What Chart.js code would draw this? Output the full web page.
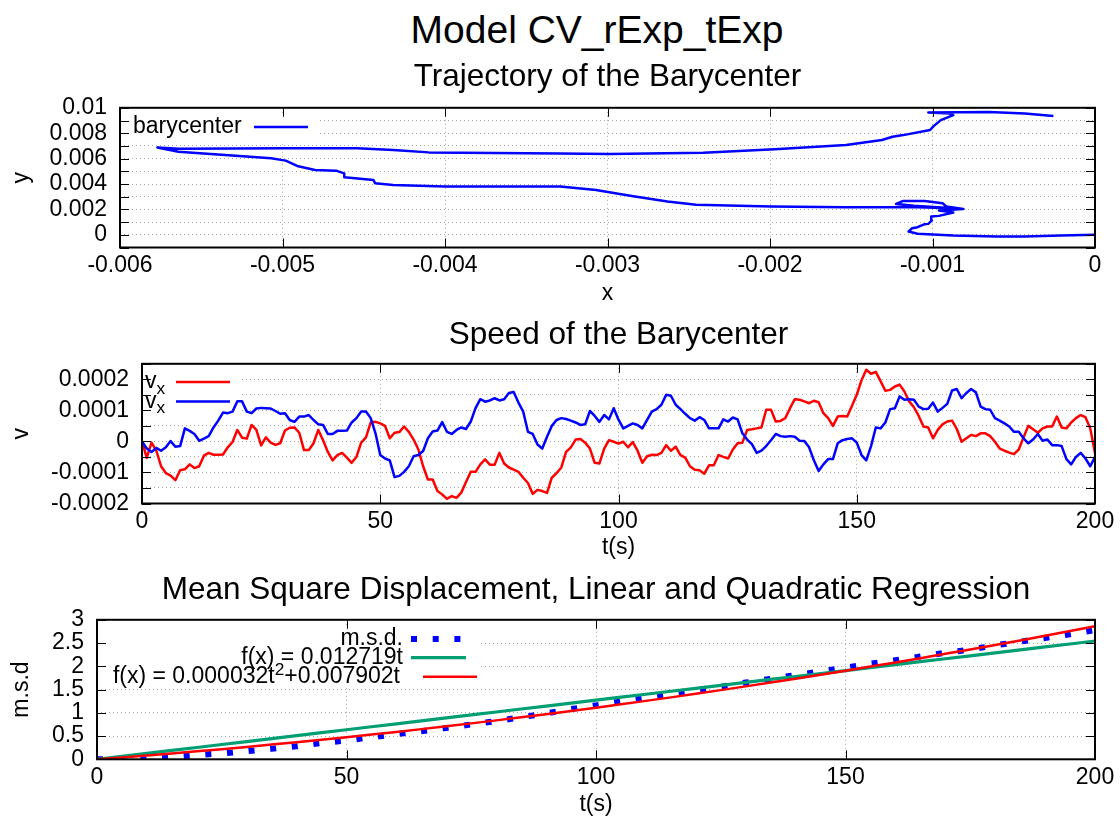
<!DOCTYPE html>
<html>
<head>
<meta charset="utf-8">
<title>Model CV_rExp_tExp</title>
<script src="https://cdn.jsdelivr.net/npm/chart.js@4.4.1/dist/chart.umd.min.js"></script>
<style>
  html, body { margin: 0; padding: 0; background: #fff; }
  #page { position: relative; width: 1120px; height: 817px; overflow: hidden;
          font-family: "Liberation Sans", Arial, sans-serif; }
  #mainTitle { position: absolute; left: 0; top: 8px; width: 1194px; text-align: center;
               font-size: 39px; line-height: 44px; color: #000; }
  canvas { position: absolute; left: 0; }
</style>
</head>
<body>
<div id="page">
  <div id="mainTitle">Model CV_rExp_tExp</div>
  <canvas id="trajChart" width="1120" height="310" style="top:0px"></canvas>
  <canvas id="speedChart" width="1120" height="256" style="top:310px"></canvas>
  <canvas id="msdChart" width="1120" height="251" style="top:566px"></canvas>
</div>
<script>
// barycenter path, in order from the origin
var trajX = [0, -0.000212, -0.000432, -0.000608, -0.000872, -0.001092, -0.001147, -0.001125, -0.001092, -0.001048,
  -0.001026, -0.001004, -0.001008, -0.00096, -0.000872, -0.00096, -0.00081, -0.000916, -0.000938, -0.001048,
  -0.00118, -0.001224, -0.001114, -0.000872, -0.001092, -0.001532, -0.001993, -0.002455, -0.002631, -0.002851,
  -0.003071, -0.003291, -0.004001, -0.00432, -0.00443, -0.00444, -0.00462, -0.00462, -0.00467, -0.0048,
  -0.00491, -0.00498, -0.00507, -0.0052, -0.00542, -0.00564, -0.00577, -0.00564, -0.00498, -0.00454,
  -0.00432, -0.0041, -0.0033, -0.002983, -0.002411, -0.001971, -0.001532, -0.001311, -0.001246, -0.00118,
  -0.001015, -0.000993, -0.000949, -0.000872, -0.000894, -0.001026, -0.000652, -0.000432, -0.000256];
var trajY = [0, -0.00005, -0.00013, -0.00013, -0.00005, 0.00008, 0.00026, 0.00052, 0.0006, 0.00084,
  0.00086, 0.00113, 0.00144, 0.00149, 0.00175, 0.00191, 0.00204, 0.00223, 0.00249, 0.00267,
  0.00267, 0.00243, 0.00228, 0.00209, 0.00217, 0.00217, 0.00223, 0.00236, 0.00262, 0.00306,
  0.00353, 0.0038, 0.0038, 0.00393, 0.00406, 0.00432, 0.00453, 0.00484, 0.00505, 0.0051,
  0.00542, 0.00584, 0.00602, 0.00615, 0.00634, 0.00654, 0.00688, 0.00678, 0.00681, 0.00681,
  0.00668, 0.00649, 0.00641, 0.00636, 0.00647, 0.00673, 0.00707, 0.00746, 0.00772, 0.00785,
  0.00825, 0.00856, 0.00903, 0.00942, 0.00955, 0.00963, 0.00966, 0.00955, 0.00935];

// speed components, one sample per second (index = t)
var speedVx = [
  0, -5.3e-5, -0.4e-5, -3.0e-5, -8.0e-5, -10.2e-5, -11.0e-5, -12.5e-5, -9.3e-5, -9.0e-5,
  -7.4e-5, -8.6e-5, -8.0e-5, -4.6e-5, -3.7e-5, -4.3e-5, -4.3e-5, -4.2e-5, -1.9e-5, -0.2e-5,
  3.7e-5, 1.2e-5, 0.9e-5, 5.3e-5, 3.7e-5, -1.3e-5, 1.3e-5, -0.4e-5, -1.1e-5, -0.6e-5,
  3.5e-5, 4.4e-5, 4.5e-5, 2.8e-5, -2.8e-5, -2.8e-5, -0.6e-5, 3.7e-5, 0.4e-5, -3.4e-5,
  -6.1e-5, -4.4e-5, -3.7e-5, -5.2e-5, -6.9e-5, -5.0e-5, -0.4e-5, 1.3e-5, 6.1e-5, 6.3e-5,
  5.8e-5, 5.0e-5, 1.0e-5, 2.8e-5, 3.0e-5, 4.8e-5, 3.1e-5, 0.6e-5, -2.6e-5, -8.0e-5,
  -12.3e-5, -12.3e-5, -16.0e-5, -17.1e-5, -18.5e-5, -17.6e-5, -18.2e-5, -16.5e-5, -13.1e-5, -9.8e-5,
  -9.8e-5, -7.4e-5, -5.8e-5, -7.5e-5, -7.5e-5, -3.7e-5, -7.1e-5, -8.4e-5, -9.1e-5, -9.8e-5,
  -11.7e-5, -13.4e-5, -16.9e-5, -15.6e-5, -16.0e-5, -16.6e-5, -11.7e-5, -10.2e-5, -8.4e-5, -3.4e-5,
  -1.9e-5, 0.6e-5, 0.8e-5, -0.4e-5, -2.3e-5, -6.9e-5, -7.1e-5, -2.3e-5, 0.4e-5, -0.1e-5,
  -0.7e-5, -0.1e-5, -1.9e-5, -0.2e-5, -3.0e-5, -6.9e-5, -4.8e-5, -4.3e-5, -4.4e-5, -3.7e-5,
  -1.2e-5, -3.0e-5, -1.7e-5, -4.4e-5, -5.2e-5, -8.0e-5, -9.1e-5, -9.3e-5, -10.4e-5, -7.7e-5,
  -7.7e-5, -4.4e-5, -5.0e-5, -5.5e-5, -2.6e-5, -0.6e-5, -0.4e-5, 3.7e-5, 3.9e-5, 4.2e-5,
  4.5e-5, 10.2e-5, 10.2e-5, 6.4e-5, 6.6e-5, 7.5e-5, 10.7e-5, 13.6e-5, 13.4e-5, 12.9e-5,
  12.3e-5, 13.1e-5, 12.6e-5, 9.1e-5, 7.5e-5, 5.0e-5, 8.0e-5, 8.2e-5, 8.0e-5, 11.5e-5,
  15.0e-5, 19.7e-5, 23.1e-5, 21.8e-5, 22.4e-5, 19.4e-5, 16.3e-5, 16.6e-5, 17.7e-5, 18.3e-5,
  16.1e-5, 12.9e-5, 11.0e-5, 8.2e-5, 4.8e-5, 4.5e-5, 1.0e-5, 3.7e-5, 5.5e-5, 6.4e-5,
  6.7e-5, 4.0e-5, -0.1e-5, 1.0e-5, 2.1e-5, 1.7e-5, 2.6e-5, 2.6e-5, 1.7e-5, -0.1e-5,
  -2.3e-5, -3.0e-5, -3.6e-5, -4.1e-5, -2.6e-5, 1.3e-5, 5.0e-5, 3.9e-5, 2.8e-5, 4.2e-5,
  4.8e-5, 4.8e-5, 8.0e-5, 4.5e-5, 4.2e-5, 6.1e-5, 7.5e-5, 8.5e-5, 7.8e-5, 4.2e-5,
  -3.7e-5];
var speedVy = [
  0, -2.3e-5, -3.4e-5, -2.1e-5, -3.0e-5, -1.9e-5, 0.1e-5, -1.7e-5, -1.5e-5, 4.2e-5,
  3.4e-5, 2.4e-5, 0.2e-5, 0.9e-5, 1.7e-5, 4.5e-5, 6.7e-5, 9.3e-5, 9.1e-5, 9.6e-5,
  12.9e-5, 12.9e-5, 9.6e-5, 9.1e-5, 10.6e-5, 10.8e-5, 10.7e-5, 10.6e-5, 9.8e-5, 8.9e-5,
  9.1e-5, 6.9e-5, 6.3e-5, 8.0e-5, 8.0e-5, 8.5e-5, 6.9e-5, 5.5e-5, 5.3e-5, 2.4e-5,
  2.4e-5, 3.4e-5, 3.4e-5, 3.5e-5, 6.1e-5, 7.5e-5, 9.6e-5, 9.6e-5, 7.5e-5, 2.6e-5,
  -4.4e-5, -5.5e-5, -6.1e-5, -11.5e-5, -11.1e-5, -9.8e-5, -8.0e-5, -4.8e-5, -4.4e-5, -3.1e-5,
  1.0e-5, 3.2e-5, 3.5e-5, 6.2e-5, 3.1e-5, 2.4e-5, 3.7e-5, 4.5e-5, 4.0e-5, 6.4e-5,
  10.7e-5, 13.6e-5, 12.8e-5, 13.2e-5, 13.9e-5, 13.2e-5, 13.6e-5, 15.6e-5, 15.9e-5, 12.5e-5,
  9.6e-5, 3.1e-5, 2.4e-5, -1.0e-5, -2.3e-5, 1.5e-5, 5.0e-5, 6.9e-5, 7.5e-5, 7.2e-5,
  6.7e-5, 6.1e-5, 5.3e-5, 5.5e-5, 9.8e-5, 8.2e-5, 6.3e-5, 8.5e-5, 7.1e-5, 10.7e-5,
  7.0e-5, 4.2e-5, 5.0e-5, 5.8e-5, 5.3e-5, 4.2e-5, 6.9e-5, 9.6e-5, 10.4e-5, 11.8e-5,
  15.0e-5, 14.7e-5, 11.8e-5, 10.4e-5, 8.9e-5, 7.5e-5, 6.7e-5, 7.8e-5, 6.9e-5, 4.2e-5,
  4.2e-5, 4.2e-5, 7.1e-5, 6.4e-5, 7.7e-5, 7.1e-5, 2.6e-5, 0.6e-5, -0.9e-5, -3.7e-5,
  -3.0e-5, -1.5e-5, 0.4e-5, 2.4e-5, 1.7e-5, 1.5e-5, 1.7e-5, 1.5e-5, 0.2e-5, 0.1e-5,
  -1.9e-5, -6.1e-5, -9.5e-5, -7.4e-5, -5.7e-5, -5.7e-5, -0.6e-5, 0.4e-5, 0.8e-5, 1.0e-5,
  -0.4e-5, -4.4e-5, -6.1e-5, -1.5e-5, 4.5e-5, 4.2e-5, 6.1e-5, 10.4e-5, 10.7e-5, 14.5e-5,
  13.4e-5, 13.6e-5, 13.4e-5, 11.2e-5, 10.4e-5, 10.5e-5, 12.5e-5, 9.6e-5, 10.8e-5, 12.1e-5,
  16.4e-5, 16.9e-5, 13.9e-5, 15.6e-5, 16.9e-5, 15.8e-5, 11.2e-5, 10.4e-5, 10.2e-5, 7.5e-5,
  6.7e-5, 5.8e-5, 4.8e-5, 3.1e-5, 3.1e-5, 1.0e-5, -0.6e-5, 0.6e-5, 2.4e-5, 0.2e-5,
  0.6e-5, -1.2e-5, -1.2e-5, -1.5e-5, -5.7e-5, -7.4e-5, -5.0e-5, -3.7e-5, -5.5e-5, -8.0e-5,
  -5.0e-5];
var speedLabels = ['v_x', 'v_x'];

// mean square displacement and the two fitted models
var msdT = [0, 5, 10, 15, 20, 25, 30, 35, 40, 45, 50, 55, 60, 65, 70, 75, 80, 85, 90, 95,
  100, 105, 110, 115, 120, 125, 130, 135, 140, 145, 150, 155, 160, 165, 170, 175, 180, 185, 190, 195, 200];
var msdVal = [0, 0, 0.018, 0.047, 0.093, 0.127, 0.175, 0.225, 0.28, 0.35, 0.405, 0.475, 0.54, 0.605, 0.675,
  0.75, 0.82, 0.905, 0.985, 1.08, 1.16, 1.245, 1.33, 1.41, 1.49, 1.56, 1.65, 1.73, 1.81, 1.89,
  1.97, 2.055, 2.13, 2.21, 2.29, 2.36, 2.45, 2.53, 2.61, 2.69, 2.78];
var linFit = [0.012719];            // f(t) = a t
var quadFit = [0.000032, 0.007902]; // f(t) = a t^2 + b t

var FONT = '"Liberation Sans", Arial, sans-serif';
var TEXT_SIZE = 23;
var TITLE_SIZE = 31.5;
var TICK_LEN = 9;

Chart.defaults.font.family = FONT;
Chart.defaults.color = '#000';

function toPoints(xs, ys) {
  return xs.map(function (x, i) { return { x: x, y: ys[i] }; });
}

function trimNum(v) {
  return String(parseFloat(v.toFixed(6)));
}

// split gnuplot-style "v_x" / "t^2" into runs
function enhancedParts(str) {
  var parts = [], buf = '', i = 0;
  while (i < str.length) {
    var c = str[i];
    if ((c === '_' || c === '^') && i + 1 < str.length) {
      if (buf) parts.push({ text: buf, shift: 0 });
      buf = '';
      parts.push({ text: str[i + 1], shift: c === '_' ? 1 : -1 });
      i += 2;
    } else {
      buf += c;
      i++;
    }
  }
  if (buf) parts.push({ text: buf, shift: 0 });
  return parts;
}

function drawEnhanced(ctx, str, x, y, align, size) {
  var parts = enhancedParts(str);
  var widths = parts.map(function (p) {
    ctx.font = (p.shift ? size * 0.75 : size) + 'px ' + FONT;
    return ctx.measureText(p.text).width;
  });
  var total = widths.reduce(function (a, b) { return a + b; }, 0);
  var cx = align === 'right' ? x - total : x;
  ctx.textAlign = 'left';
  ctx.textBaseline = 'middle';
  ctx.fillStyle = '#000';
  parts.forEach(function (p, k) {
    ctx.font = (p.shift ? size * 0.75 : size) + 'px ' + FONT;
    ctx.fillText(p.text, cx, y + p.shift * size * 0.3);
    cx += widths[k];
  });
}

// border with inward mirrored tics, plus an opaque key
function gnuFrame(key) {
  return {
    id: 'gnuFrame',
    beforeDatasetsDraw: function (chart) {
      var ctx = chart.ctx;
      ctx.save();
      ctx.fillStyle = '#ffffff';
      ctx.fillRect(key.box[0], key.box[1], key.box[2], key.box[3]);
      ctx.restore();
    },
    afterDatasetsDraw: function (chart) {
      var ctx = chart.ctx, a = chart.chartArea;
      var sx = chart.scales.x, sy = chart.scales.y;
      ctx.save();
      ctx.strokeStyle = '#000';
      ctx.lineWidth = 1;
      ctx.beginPath();
      sx.ticks.forEach(function (t) {
        var px = Math.round(sx.getPixelForValue(t.value)) + 0.5;
        ctx.moveTo(px, a.bottom); ctx.lineTo(px, a.bottom - TICK_LEN);
        ctx.moveTo(px, a.top); ctx.lineTo(px, a.top + TICK_LEN);
      });
      sy.ticks.forEach(function (t) {
        var py = Math.round(sy.getPixelForValue(t.value)) + 0.5;
        ctx.moveTo(a.left, py); ctx.lineTo(a.left + TICK_LEN, py);
        ctx.moveTo(a.right, py); ctx.lineTo(a.right - TICK_LEN, py);
      });
      ctx.stroke();
      ctx.lineWidth = 2;
      ctx.strokeRect(a.left, a.top, a.right - a.left, a.bottom - a.top);

      key.rows.forEach(function (row, i) {
        var ds = chart.data.datasets[i];
        drawEnhanced(ctx, ds.label, row.textX, row.y, key.align, TEXT_SIZE);
        ctx.strokeStyle = ds.borderColor;
        ctx.lineWidth = ds.borderWidth;
        ctx.setLineDash(ds.borderDash || []);
        ctx.beginPath();
        ctx.moveTo(row.x1, row.y);
        ctx.lineTo(row.x2, row.y);
        ctx.stroke();
        ctx.setLineDash([]);
      });
      ctx.restore();
    }
  };
}

function axis(o) {
  return {
    type: 'linear',
    position: o.position,
    min: o.min,
    max: o.max,
    afterFit: function (scale) {
      if (o.position === 'left') scale.width = o.size;
      else scale.height = o.size;
    },
    grid: { color: '#a8a8a8', lineWidth: 1, drawTicks: false },
    border: { display: false, dash: [1, 3] },
    ticks: {
      stepSize: o.step,
      autoSkip: false,
      maxRotation: 0,
      padding: o.tickPad,
      color: '#000',
      font: { family: FONT, size: TEXT_SIZE },
      callback: o.label || function (v) { return trimNum(v); }
    },
    title: {
      display: true,
      text: o.title,
      color: '#000',
      font: { family: FONT, size: TEXT_SIZE, lineHeight: 1 },
      padding: o.titlePad
    }
  };
}

function panelTitle(text, top, bottom) {
  return {
    display: true,
    text: text,
    fullSize: false,
    color: '#000',
    font: { family: FONT, size: TITLE_SIZE, weight: 'normal', lineHeight: 1.2 },
    padding: { top: top, bottom: bottom }
  };
}

function baseOptions(title, scales) {
  return {
    responsive: false,
    animation: false,
    devicePixelRatio: 1,
    layout: { padding: { left: 0, right: 25, top: 0, bottom: 0 } },
    plugins: { legend: { display: false }, tooltip: { enabled: false }, title: title },
    elements: { point: { radius: 0 }, line: { tension: 0 } },
    scales: scales
  };
}

document.addEventListener('DOMContentLoaded', function () {
  // Trajectory of the Barycenter
  new Chart(document.getElementById('trajChart').getContext('2d'), {
    type: 'scatter',
    data: {
      datasets: [{
        label: 'barycenter',
        data: toPoints(trajX, trajY),
        showLine: true,
        borderColor: '#0000ff',
        borderWidth: 2.5,
        borderJoinStyle: 'round'
      }]
    },
    options: baseOptions(panelTitle('Trajectory of the Barycenter', 58, 12), {
      x: axis({ position: 'bottom', min: -0.006, max: 0, step: 0.001, size: 62.5, tickPad: 4.5,
        title: 'x', titlePad: { bottom: 5 } }),
      y: axis({ position: 'left', min: -0.001, max: 0.01, step: 0.001, size: 120, tickPad: 13,
        title: 'y', titlePad: { top: 10.5 },
        label: function (v) { return Math.round(v * 1000) % 2 === 0 ? trimNum(v) : ''; } })
    }),
    plugins: [gnuFrame({
      box: [121, 113, 198, 28], align: 'left',
      rows: [{ textX: 133, y: 127, x1: 254, x2: 308 }]
    })]
  });

  // Speed of the Barycenter
  new Chart(document.getElementById('speedChart').getContext('2d'), {
    type: 'scatter',
    data: {
      datasets: [
        { label: speedLabels[0], data: speedVx.map(function (v, t) { return { x: t, y: v }; }),
          showLine: true, borderColor: '#ff0000', borderWidth: 2.5, borderJoinStyle: 'round', order: 2 },
        { label: speedLabels[1], data: speedVy.map(function (v, t) { return { x: t, y: v }; }),
          showLine: true, borderColor: '#0000ff', borderWidth: 2.5, borderJoinStyle: 'round', order: 1 }
      ]
    },
    options: baseOptions(panelTitle('Speed of the Barycenter', 6, 10), {
      x: axis({ position: 'bottom', min: 0, max: 200, step: 50, size: 62.5, tickPad: 4.5,
        title: 't(s)', titlePad: { bottom: 6.5 } }),
      y: axis({ position: 'left', min: -0.0002, max: 0.00025, step: 0.00005, size: 142, tickPad: 13,
        title: 'v', titlePad: { top: 10.5 },
        label: function (v) {
          var k = v / 0.0001;
          return Math.abs(k - Math.round(k)) < 1e-6 ? trimNum(v) : '';
        } })
    }),
    plugins: [gnuFrame({
      box: [143, 58, 98, 46], align: 'left',
      rows: [{ textX: 145, y: 72, x1: 176, x2: 230 }, { textX: 145, y: 91.5, x1: 176, x2: 230 }]
    })]
  });

  // Mean Square Displacement with the linear and quadratic fits
  var linVals = msdT.map(function (t) { return linFit[0] * t; });
  var quadVals = msdT.map(function (t) { return quadFit[0] * t * t + quadFit[1] * t; });
  new Chart(document.getElementById('msdChart').getContext('2d'), {
    type: 'scatter',
    data: {
      datasets: [
        { label: 'm.s.d.', data: toPoints(msdT, msdVal), showLine: true, borderColor: '#0000ff',
          borderWidth: 6, borderDash: [6, 15.7], borderCapStyle: 'butt', order: 3 },
        { label: 'f(x) = ' + linFit[0] + 't', data: toPoints(msdT, linVals), showLine: true,
          borderColor: '#009e73', borderWidth: 3.2, order: 2 },
        { label: 'f(x) = ' + quadFit[0] + 't^2+' + quadFit[1] + 't', data: toPoints(msdT, quadVals),
          showLine: true, borderColor: '#ff0000', borderWidth: 2.5, order: 1 }
      ]
    },
    options: baseOptions(panelTitle('Mean Square Displacement, Linear and Quadratic Regression', 5, 11), {
      x: axis({ position: 'bottom', min: 0, max: 200, step: 50, size: 57.7, tickPad: 4.5,
        title: 't(s)', titlePad: { bottom: 0.5 } }),
      y: axis({ position: 'left', min: 0, max: 3, step: 0.5, size: 97, tickPad: 13,
        title: 'm.s.d', titlePad: { top: 10.5 } })
    }),
    plugins: [gnuFrame({
      box: [98, 62, 382, 60], align: 'right',
      rows: [
        { textX: 403, y: 73, x1: 411, x2: 466 },
        { textX: 403, y: 91.7, x1: 411, x2: 466 },
        { textX: 400, y: 110.7, x1: 423, x2: 477 }
      ]
    })]
  });
});
</script>
</body>
</html>
